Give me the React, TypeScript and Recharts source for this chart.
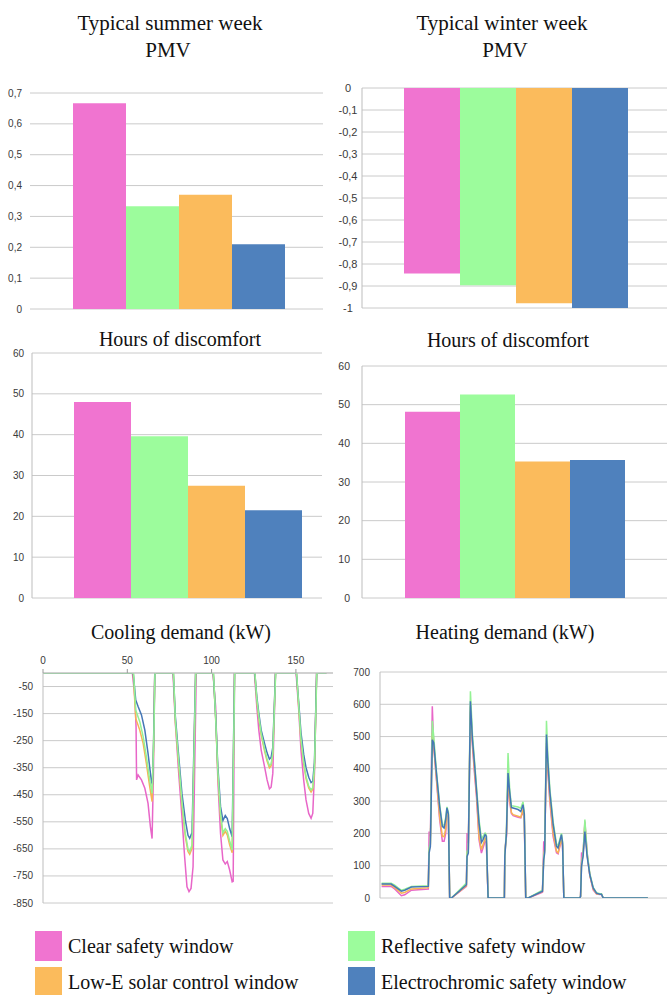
import React from 'react';
import { BarChart, Bar, XAxis, YAxis, CartesianGrid, LineChart, Line } from 'recharts';

// ---------- series / categories ----------
const SERIES_NAMES = [
  'Clear safety window',
  'Reflective safety window',
  'Low-E solar control window',
  'Electrochromic safety window',
];
const SERIES_KEYS = ['clear', 'reflective', 'lowE', 'electro'];
const BAR_COLORS = ['#f074d0', '#9cfc9c', '#fbbb5c', '#4f81bd'];
const LINE_COLORS = ['#e866c8', '#94f294', '#f6b454', '#4577b6'];

// ---------- bar values ----------
const summerPMV = [0.667, 0.333, 0.37, 0.21];
const winterPMV = [-0.843, -0.897, -0.978, -1.0];
const summerHours = [48, 39.6, 27.5, 21.5];
const winterHours = [48.2, 52.6, 35.3, 35.7];

// ---------- tick labels ----------
const summerPMVTicks = [0, 0.1, 0.2, 0.3, 0.4, 0.5, 0.6, 0.7];
const winterPMVTicks = [0, -0.1, -0.2, -0.3, -0.4, -0.5, -0.6, -0.7, -0.8, -0.9, -1];
const hoursTicks = [0, 10, 20, 30, 40, 50, 60];
const coolingYTicks = [-50, -150, -250, -350, -450, -550, -650, -750, -850];
const coolingXTicks = [0, 50, 100, 150];
const heatingYTicks = [0, 100, 200, 300, 400, 500, 600, 700];

// ---------- cooling demand (hour, kW) ----------
const coolClear = [
  [0, 0], [53, 0], [54, -60], [54.6, -100], [55.2, -200], [55.5, -395], [56.4, -377], [58.4, -395], [60.4, -426], [62.3, -482], [63.7, -568], [64.7, -612], [65.5, -371], [66.3, 0],
  [77.1, 0], [78.5, -186], [80.5, -371], [82.4, -531], [84, -679], [85.4, -790], [86.6, -808], [87.8, -796], [89, -716], [90.9, 0],
  [100.8, 0], [102.4, -124], [103.7, -395], [105.3, -593], [106.7, -691], [108.1, -706], [109.3, -697], [110.7, -728], [112.2, -772], [112.8, -770], [113.6, 0],
  [125.4, 0], [126.8, -124], [128, -211], [129.4, -285], [131.4, -346], [132.9, -395], [134.3, -428], [135.3, -422], [136.3, -371], [137.9, 0],
  [150.1, 0], [151.7, -137], [153, -285], [154.6, -395], [156, -469], [157.6, -519], [159, -537], [160, -519], [161, -371], [162.3, 0], [168, 0],
];
const coolElectro = [
  [0, 0], [53.5, 0], [55, -100], [56.4, -124], [58.4, -155], [60.4, -211], [62.3, -297], [64.3, -400], [64.9, -412], [65.6, -250], [66.3, 0],
  [77.3, 0], [78.5, -161], [80.5, -309], [82.4, -445], [84.4, -543], [86, -600], [87, -611], [88.4, -590], [90.5, 0],
  [101, 0], [102.4, -161], [103.7, -346], [105.3, -494], [106.7, -545], [108.1, -527], [109.3, -538], [110.7, -575], [112.2, -605], [113.6, 0],
  [125.6, 0], [126.8, -87], [128, -149], [129.4, -211], [131.4, -260], [132.9, -295], [134.3, -318], [135.3, -312], [136.3, -275], [137.9, 0],
  [150.3, 0], [151.7, -112], [153, -220], [154.6, -300], [156, -350], [157.6, -385], [159, -405], [160, -400], [161, -330], [162.3, 0], [168, 0],
];
const coolLowE = [
  [0, 0], [53.5, 0], [55, -168], [57.4, -211], [59.4, -260], [61.3, -334], [63.3, -420], [64.7, -475], [65.5, -300], [66.3, 0],
  [77.3, 0], [78.5, -180], [80.5, -340], [82.4, -488], [84.4, -605], [86, -660], [87, -670], [88.4, -648], [90.5, 0],
  [101, 0], [102.4, -170], [103.7, -371], [105.3, -531], [106.7, -600], [108.1, -585], [109.3, -598], [110.7, -635], [112.2, -664], [113.6, 0],
  [125.6, 0], [126.8, -100], [128, -168], [129.4, -229], [131.4, -288], [132.9, -325], [134.3, -350], [135.3, -343], [136.3, -300], [137.9, 0],
  [150.3, 0], [151.7, -128], [153, -250], [154.6, -335], [156, -390], [157.6, -425], [159, -440], [160, -430], [161, -355], [162.3, 0], [168, 0],
];
const coolReflective = [
  [0, 0], [53.7, 0], [55, -137], [57.4, -180], [59.4, -235], [61.3, -309], [63.3, -395], [64.7, -445], [65.7, -250], [66.4, 0],
  [77.4, 0], [78.5, -174], [80.5, -328], [82.4, -475], [84.4, -593], [86, -650], [87, -660], [88.4, -636], [90.6, 0],
  [101.1, 0], [102.4, -165], [103.7, -360], [105.3, -520], [106.7, -590], [108.1, -575], [109.3, -585], [110.7, -620], [112.2, -654], [113.7, 0],
  [125.7, 0], [126.8, -95], [128, -160], [129.4, -222], [131.4, -280], [132.9, -318], [134.3, -342], [135.3, -336], [136.3, -295], [138, 0],
  [150.4, 0], [151.7, -122], [153, -242], [154.6, -328], [156, -382], [157.6, -418], [159, -432], [160, -424], [161, -348], [162.4, 0], [168, 0],
];

// ---------- heating demand (hour, kW) ----------
const heatElectro = [
  [1, 43], [7, 43], [9.2, 36], [13.4, 21], [15.5, 24], [19.7, 34], [30.3, 36], [30.8, 139], [31.6, 160], [32.8, 490], [33.7, 480], [35.4, 387], [37.4, 284], [39.1, 222], [40.2, 217], [41.2, 243], [42, 279], [42.9, 260], [43.7, 0],
  [44.8, 0], [54.2, 41], [54.6, 129], [55.4, 139], [56.7, 609], [58, 490], [59.4, 408], [60.5, 336], [62.1, 232], [63.6, 172], [64.6, 181], [65.9, 196], [66.7, 191], [67.8, 0],
  [78, 0], [78.3, 130], [79.3, 200], [80.3, 387], [81.3, 330], [82.4, 280], [83.5, 279], [86.6, 274], [88.3, 268], [89.7, 289], [90.5, 260], [91.4, 0],
  [93, 0], [101.9, 21], [102.7, 119], [103.3, 140], [104.4, 506], [105.3, 420], [106.5, 330], [108.6, 227], [110.7, 160], [111.7, 155], [113.8, 196], [114.5, 170], [115.3, 0],
  [125.3, 0], [125.8, 5], [126.4, 98], [127.4, 130], [128.5, 206], [129.9, 129], [131.6, 72], [133.7, 31], [135.8, 15], [137.9, 12], [138.9, 12], [140, 0], [168, 0],
];
const heatClear = [
  [1, 36], [7, 36], [9.2, 28], [13.4, 7], [15.5, 10], [19.7, 24], [30.3, 28], [30.8, 206], [31.6, 191], [32.8, 594], [33.7, 470], [35.4, 366], [37.4, 243], [39.1, 176], [40.2, 176], [41.2, 200], [42, 268], [42.9, 250], [43.7, 0],
  [44.8, 0], [54.2, 36], [54.6, 201], [55.4, 170], [56.7, 578], [58, 470], [59.4, 377], [60.5, 315], [62.1, 181], [63.6, 139], [64.6, 155], [65.9, 176], [66.7, 170], [67.8, 0],
  [78, 0], [78.3, 150], [79.3, 190], [80.3, 360], [81.3, 300], [82.4, 262], [83.5, 255], [86.6, 250], [88.3, 248], [89.7, 270], [90.5, 240], [91.4, 0],
  [93, 0], [101.9, 18], [102.7, 176], [103.3, 160], [104.4, 470], [105.3, 390], [106.5, 300], [108.6, 190], [110.7, 140], [111.7, 137], [113.8, 180], [114.5, 160], [115.3, 0],
  [125.3, 0], [125.8, 5], [126.4, 139], [127.4, 140], [128.5, 237], [129.9, 140], [131.6, 70], [133.7, 25], [135.8, 12], [137.9, 11], [138.9, 11], [140, 0], [168, 0],
];
const heatLowE = [
  [1, 40], [7, 40], [9.2, 32], [13.4, 15], [15.5, 17], [19.7, 28], [30.3, 32], [30.8, 150], [31.6, 165], [32.8, 511], [33.7, 470], [35.4, 372], [37.4, 253], [39.1, 191], [40.2, 190], [41.2, 215], [42, 274], [42.9, 255], [43.7, 0],
  [44.8, 0], [54.2, 38], [54.6, 139], [55.4, 150], [56.7, 594], [58, 480], [59.4, 387], [60.5, 325], [62.1, 191], [63.6, 150], [64.6, 165], [65.9, 186], [66.7, 180], [67.8, 0],
  [78, 0], [78.3, 135], [79.3, 195], [80.3, 370], [81.3, 310], [82.4, 265], [83.5, 258], [86.6, 253], [88.3, 250], [89.7, 275], [90.5, 245], [91.4, 0],
  [93, 0], [101.9, 20], [102.7, 130], [103.3, 150], [104.4, 480], [105.3, 400], [106.5, 310], [108.6, 200], [110.7, 145], [111.7, 140], [113.8, 185], [114.5, 165], [115.3, 0],
  [125.3, 0], [125.8, 5], [126.4, 110], [127.4, 135], [128.5, 230], [129.9, 135], [131.6, 70], [133.7, 28], [135.8, 13], [137.9, 12], [138.9, 12], [140, 0], [168, 0],
];
const heatReflective = [
  [1, 46], [7, 46], [9.2, 40], [13.4, 24], [15.5, 27], [19.7, 36], [30.3, 38], [30.8, 155], [31.6, 170], [32.8, 549], [33.7, 500], [35.4, 392], [37.4, 289], [39.1, 227], [40.2, 225], [41.2, 250], [42, 282], [42.9, 265], [43.7, 0],
  [44.8, 0], [54.2, 46], [54.6, 145], [55.4, 150], [56.7, 640], [58, 505], [59.4, 418], [60.5, 346], [62.1, 243], [63.6, 183], [64.6, 191], [65.9, 201], [66.7, 195], [67.8, 0],
  [78, 0], [78.3, 135], [79.3, 210], [80.3, 449], [81.3, 340], [82.4, 285], [83.5, 285], [86.6, 282], [88.3, 278], [89.7, 298], [90.5, 265], [91.4, 0],
  [93, 0], [101.9, 24], [102.7, 125], [103.3, 150], [104.4, 549], [105.3, 440], [106.5, 340], [108.6, 236], [110.7, 168], [111.7, 162], [113.8, 200], [114.5, 175], [115.3, 0],
  [125.3, 0], [125.8, 5], [126.4, 105], [127.4, 140], [128.5, 243], [129.9, 140], [131.6, 76], [133.7, 33], [135.8, 16], [137.9, 13], [138.9, 13], [140, 0], [168, 0],
];

// ---------- styling ----------
const SERIF = '"Liberation Serif", "Times New Roman", serif';
const SANS = '"Liberation Sans", Arial, sans-serif';
const GRID = '#cacaca';
const AXIS = '#bdbdbd';
const TICK_FILL = '#3a3a3a';

const toPts = (arr: number[][]) => arr.map(([t, v]) => ({ t, v }));
const fmtComma = (v: number) =>
  Number.isInteger(v) ? String(v) : v.toFixed(1).replace('.', ',');

function Title({ cx, baseline, text, size = 20 }: { cx: number; baseline: number; text: string; size?: number }) {
  return (
    <div
      style={{
        position: 'absolute',
        left: cx - 200,
        width: 400,
        top: baseline - 0.8375 * size,
        fontFamily: SERIF,
        fontSize: size,
        lineHeight: `${size}px`,
        textAlign: 'center',
        color: '#111',
        whiteSpace: 'nowrap',
      }}
    >
      {text}
    </div>
  );
}

type BarPanelProps = {
  left: number;
  top: number;
  width: number;
  height: number;
  margin: { top: number; right: number; left: number; bottom: number };
  yWidth: number;
  values: number[];
  domain: [number, number];
  ticks: number[];
  padding: { left: number; right: number };
  axisLine: boolean;
  tickMargin: number;
  anchor: 'end' | 'middle';
  fontSize: number;
};

function BarPanel(p: BarPanelProps) {
  const row: Record<string, number | string> = { name: 'all' };
  SERIES_KEYS.forEach((k, i) => {
    row[k] = p.values[i];
  });
  return (
    <div style={{ position: 'absolute', left: p.left, top: p.top }}>
      <BarChart width={p.width} height={p.height} data={[row]} margin={p.margin} barCategoryGap={0} barGap={0}>
        <CartesianGrid vertical={false} stroke={GRID} />
        <XAxis dataKey="name" type="category" hide padding={p.padding} />
        <YAxis
          type="number"
          width={p.yWidth}
          domain={p.domain}
          ticks={p.ticks}
          interval={0}
          allowDataOverflow
          tickLine={false}
          tickSize={6}
          tickMargin={p.tickMargin}
          axisLine={p.axisLine ? { stroke: AXIS } : false}
          tick={{ fill: TICK_FILL, fontSize: p.fontSize, fontFamily: SANS, textAnchor: p.anchor }}
          tickFormatter={fmtComma}
        />
        {SERIES_KEYS.map((k, i) => (
          <Bar key={k} dataKey={k} name={SERIES_NAMES[i]} fill={BAR_COLORS[i]} isAnimationActive={false} />
        ))}
      </BarChart>
    </div>
  );
}

function CoolingPanel() {
  const series = [coolClear, coolLowE, coolElectro, coolReflective];
  const colorIdx = [0, 2, 3, 1];
  return (
    <div style={{ position: 'absolute', left: 0, top: 645 }}>
      <LineChart width={333} height={270} margin={{ top: 0, right: 0, left: 0, bottom: 12 }}>
        <CartesianGrid vertical={false} stroke={GRID} />
        <XAxis
          dataKey="t"
          type="number"
          orientation="top"
          height={28}
          domain={[0, 172]}
          ticks={coolingXTicks}
          interval={0}
          allowDataOverflow
          axisLine={{ stroke: AXIS }}
          tickLine={{ stroke: '#999' }}
          tickSize={4}
          tickMargin={5}
          tick={{ fill: TICK_FILL, fontSize: 10, fontFamily: SANS }}
        />
        <YAxis
          type="number"
          width={43}
          domain={[-850, 0]}
          ticks={coolingYTicks}
          interval={0}
          allowDataOverflow
          tickLine={false}
          tickSize={6}
          tickMargin={4}
          axisLine={{ stroke: AXIS }}
          tick={{ fill: TICK_FILL, fontSize: 10, fontFamily: SANS }}
        />
        {series.map((s, i) => (
          <Line
            key={i}
            data={toPts(s)}
            dataKey="v"
            name={SERIES_NAMES[colorIdx[i]]}
            type="linear"
            stroke={LINE_COLORS[colorIdx[i]]}
            strokeWidth={1.5}
            dot={false}
            isAnimationActive={false}
          />
        ))}
      </LineChart>
    </div>
  );
}

function HeatingPanel() {
  const series = [heatClear, heatLowE, heatReflective, heatElectro];
  const colorIdx = [0, 2, 1, 3];
  return (
    <div style={{ position: 'absolute', left: 333, top: 655 }}>
      <LineChart width={334} height={255} margin={{ top: 17, right: 0, left: 0, bottom: 12 }}>
        <CartesianGrid vertical={false} stroke={GRID} />
        <XAxis dataKey="t" type="number" hide domain={[0, 180]} allowDataOverflow />
        <YAxis
          type="number"
          width={47}
          domain={[0, 700]}
          ticks={heatingYTicks}
          interval={0}
          allowDataOverflow
          tickLine={false}
          tickSize={6}
          tickMargin={4}
          axisLine={{ stroke: AXIS }}
          tick={{ fill: TICK_FILL, fontSize: 10, fontFamily: SANS }}
        />
        {series.map((s, i) => (
          <Line
            key={i}
            data={toPts(s)}
            dataKey="v"
            name={SERIES_NAMES[colorIdx[i]]}
            type="linear"
            stroke={LINE_COLORS[colorIdx[i]]}
            strokeWidth={1.5}
            dot={false}
            isAnimationActive={false}
          />
        ))}
      </LineChart>
    </div>
  );
}

function LegendBlock() {
  const pos = [
    { x: 35, y: 931 },
    { x: 348, y: 931 },
    { x: 35, y: 967 },
    { x: 348, y: 967 },
  ];
  return (
    <>
      {SERIES_NAMES.map((n, i) => (
        <div key={n} style={{ position: 'absolute', left: pos[i].x, top: pos[i].y, display: 'flex', alignItems: 'center', height: 30 }}>
          <div style={{ width: 27, height: 30, background: BAR_COLORS[i] }} />
          <span style={{ marginLeft: 6, fontFamily: SERIF, fontSize: 20, color: '#111', whiteSpace: 'nowrap' }}>{n}</span>
        </div>
      ))}
    </>
  );
}

export default function App() {
  return (
    <div style={{ position: 'absolute', left: 0, top: 0, width: 667, height: 995, background: '#fff', overflow: 'hidden' }}>
      <Title cx={170} baseline={31} text="Typical summer week" size={21} />
      <Title cx={168} baseline={58} text="PMV" size={21} />
      <Title cx={502} baseline={31} text="Typical winter week" size={21} />
      <Title cx={505} baseline={58} text="PMV" size={21} />

      <BarPanel
        left={0} top={80} width={333} height={240}
        margin={{ top: 13, right: 10, left: 0, bottom: 11 }}
        yWidth={30} values={summerPMV} domain={[0, 0.7]} ticks={summerPMVTicks}
        padding={{ left: 43, right: 39 }} axisLine={false} tickMargin={2} anchor="end" fontSize={10}
      />
      <BarPanel
        left={333} top={75} width={334} height={245}
        margin={{ top: 13, right: 0, left: 0, bottom: 12 }}
        yWidth={29} values={winterPMV} domain={[-1, 0]} ticks={winterPMVTicks}
        padding={{ left: 42, right: 41 }} axisLine={true} tickMargin={8} anchor="middle" fontSize={11}
      />

      <Title cx={180} baseline={346} text="Hours of discomfort" />
      <Title cx={508} baseline={347} text="Hours of discomfort" />

      <BarPanel
        left={0} top={340} width={333} height={270}
        margin={{ top: 13, right: 11, left: 0, bottom: 12 }}
        yWidth={32} values={summerHours} domain={[0, 60]} ticks={hoursTicks}
        padding={{ left: 42, right: 20 }} axisLine={true} tickMargin={2} anchor="end" fontSize={10}
      />
      <BarPanel
        left={333} top={350} width={334} height={260}
        margin={{ top: 16, right: 0, left: 0, bottom: 12 }}
        yWidth={29} values={winterHours} domain={[0, 60]} ticks={hoursTicks}
        padding={{ left: 43, right: 41 }} axisLine={true} tickMargin={6} anchor="end" fontSize={10.5}
      />

      <Title cx={181} baseline={639} text="Cooling demand (kW)" />
      <Title cx={505} baseline={639} text="Heating demand (kW)" />

      <CoolingPanel />
      <HeatingPanel />
      <LegendBlock />
    </div>
  );
}
